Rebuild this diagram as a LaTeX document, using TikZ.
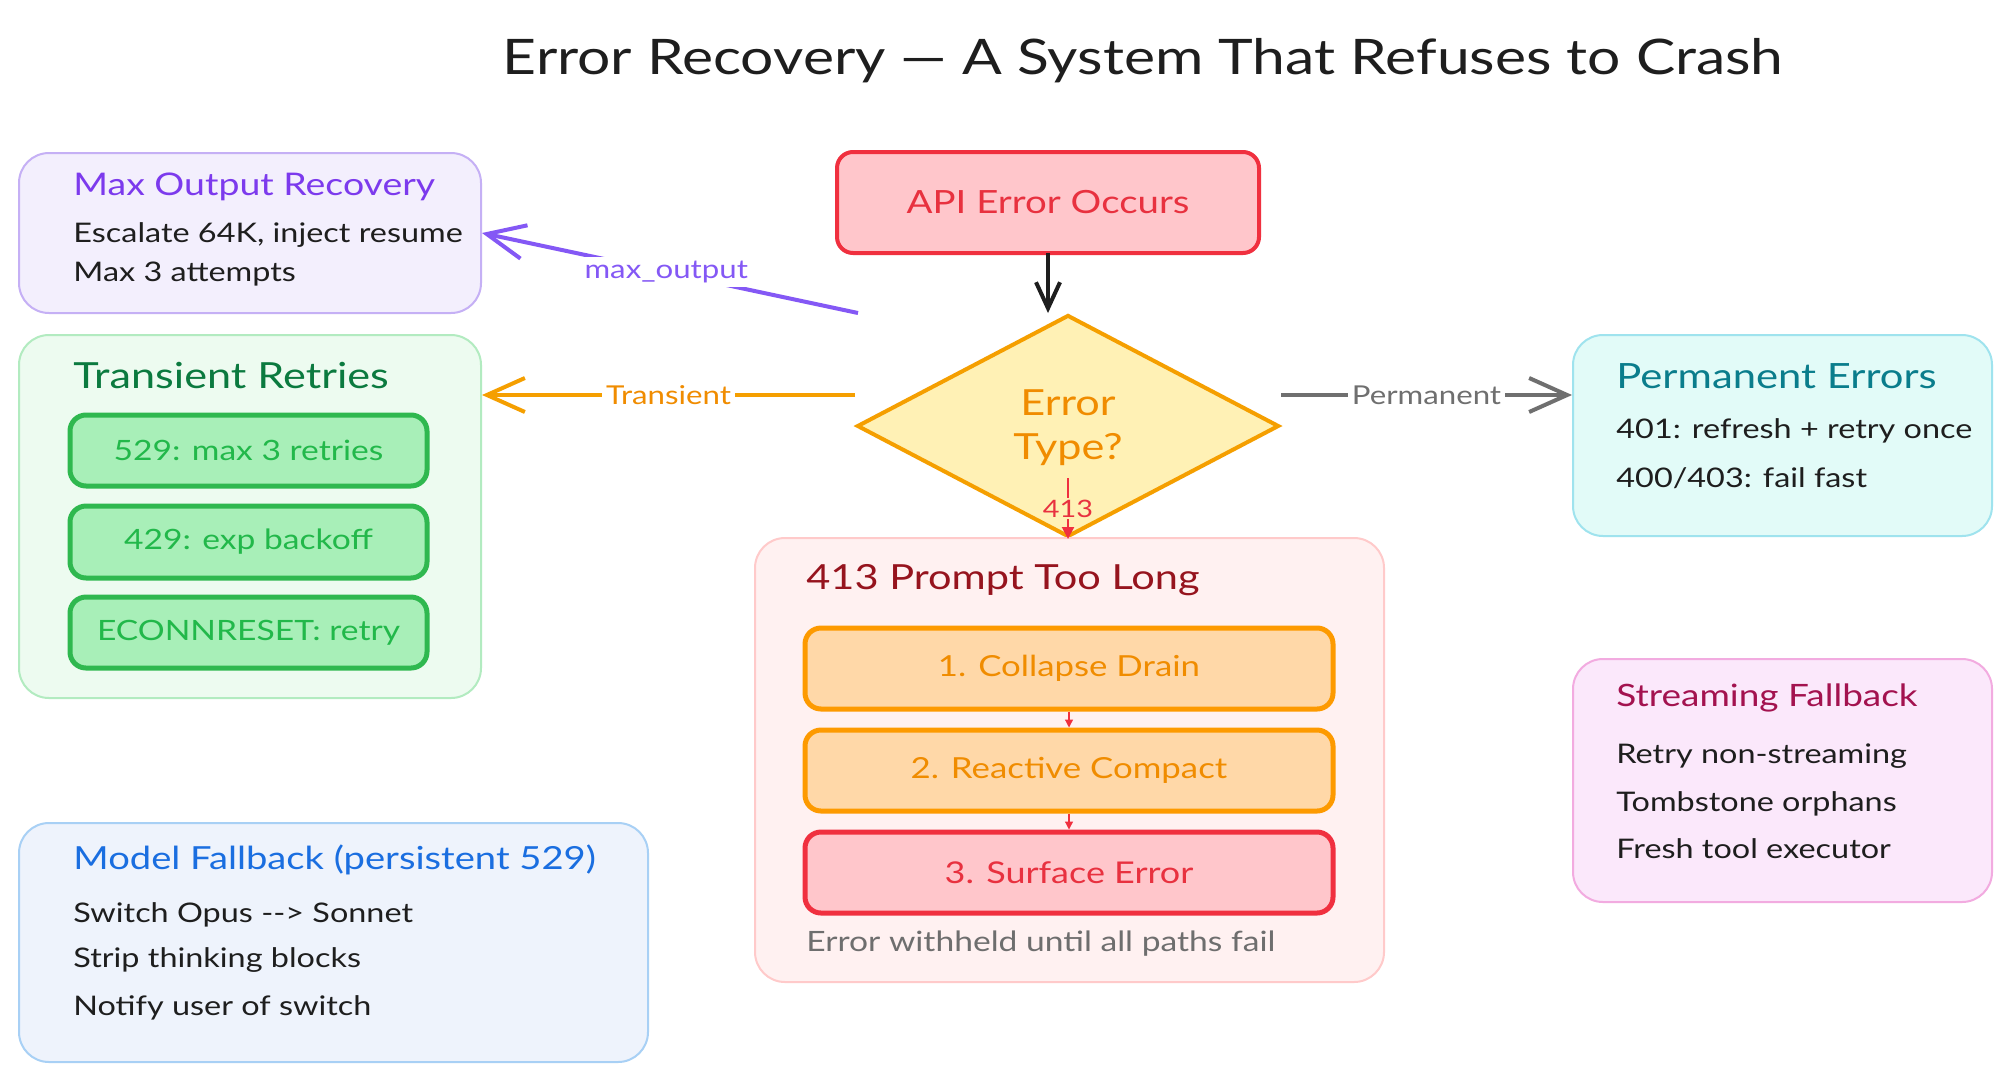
\documentclass[tikz,border=0pt]{standalone}
\usepackage{fontspec}
\setmainfont{Lato}[FakeStretch=1.2]
\usetikzlibrary{arrows.meta,shapes.geometric,fit}
\definecolor{ink}{HTML}{1E1E1E}
\definecolor{moFill}{HTML}{F3EFFD}\definecolor{moDraw}{HTML}{C5B0F5}\definecolor{moTitle}{HTML}{7C3AED}
\definecolor{trFill}{HTML}{EDFBF0}\definecolor{trDraw}{HTML}{B2EBC0}\definecolor{trTitle}{HTML}{0B7A3F}
\definecolor{sgFill}{HTML}{A8EFB8}\definecolor{sgDraw}{HTML}{2FB84F}\definecolor{sgText}{HTML}{22B84A}
\definecolor{apiFill}{HTML}{FFC6CB}\definecolor{apiDraw}{HTML}{F0303F}\definecolor{apiText}{HTML}{E8313F}
\definecolor{dFill}{HTML}{FFF1B5}\definecolor{dDraw}{HTML}{F59F00}\definecolor{dText}{HTML}{F08C00}
\definecolor{ptFill}{HTML}{FFF1F1}\definecolor{ptDraw}{HTML}{FFCACA}\definecolor{ptTitle}{HTML}{96141E}
\definecolor{stFill}{HTML}{FFD8A8}\definecolor{stDraw}{HTML}{FD9A00}
\definecolor{footGray}{HTML}{6E6E6E}
\definecolor{peFill}{HTML}{E2FBF8}\definecolor{peDraw}{HTML}{9FE3EE}\definecolor{peTitle}{HTML}{0A7D8C}
\definecolor{sfFill}{HTML}{FBE8FB}\definecolor{sfDraw}{HTML}{F2ABE0}\definecolor{sfTitle}{HTML}{A3124F}
\definecolor{mfFill}{HTML}{EEF3FC}\definecolor{mfDraw}{HTML}{A8D0F5}\definecolor{mfTitle}{HTML}{1A6EE0}
\definecolor{arPurple}{HTML}{8458F5}\definecolor{arGray}{HTML}{6F6F6F}
\newcommand{\fsz}[1]{\fontsize{#1}{#1}\selectfont}
\begin{document}
\begin{tikzpicture}[x=0.5pt,y=-0.5pt,
  container/.style={rounded corners=15pt,line width=1pt,inner sep=0pt},
  inner/.style={rounded corners=8pt,line width=2.5pt,inner sep=0pt},
  boxtitle/.style={anchor=west,inner sep=0pt,font=\fsz{17pt}},
  bodyline/.style={anchor=west,inner sep=0pt,text=ink,font=\fsz{13.5pt}},
  innertext/.style={inner sep=0pt,font=\fsz{14.5pt}},
  edgelabel/.style={inner sep=2pt,font=\fsz{13pt}},
  barb/.style={-{Straight Barb[length=19pt,width=17pt,line width=2pt]}},
  smallarrow/.style={-{Triangle[length=4pt,width=4pt]},line width=0.6pt,draw=apiDraw}
]
\useasboundingbox (0,0) rectangle (2000,1071);
\fill[white] (0,0) rectangle (2000,1071);

% title
\node[inner sep=0pt,text=ink,font=\fsz{24.5pt}] (title) at (1143,61) {Error Recovery — A System That Refuses to Crash};

% Max output recovery
\node[container,draw=moDraw,fill=moFill,fit={(19,153) (481,313)}] (mo) {};
\node[boxtitle,text=moTitle,font=\fsz{15.6pt}] (moT) at (73,187) {Max Output Recovery};
\node[bodyline] (mo1) at (73,235) {Escalate 64K, inject resume};
\node[bodyline] (mo2) at (73,274) {Max 3 attempts};

% Transient retries
\node[container,draw=trDraw,fill=trFill,fit={(19,335) (481,698)}] (tr) {};
\node[boxtitle,text=trTitle,font=\fsz{18pt}] (trT) at (73,376) {Transient Retries};
\node[inner,draw=sgDraw,fill=sgFill,fit={(70,415) (427,486)}] (tr1) {};
\node[inner,draw=sgDraw,fill=sgFill,fit={(70,506) (427,578)}] (tr2) {};
\node[inner,draw=sgDraw,fill=sgFill,fit={(70,597) (427,668)}] (tr3) {};
\node[innertext,text=sgText,font=\fsz{14pt}] at (tr1.center) {529: max 3 retries};
\node[innertext,text=sgText,font=\fsz{14pt}] at (tr2.center) {429: exp backoff};
\node[innertext,text=sgText,font=\fsz{14pt}] at (tr3.center) {ECONNRESET: retry};

% API error
\node[inner,line width=2pt,draw=apiDraw,fill=apiFill,fit={(837,152) (1259,253)}] (api) {};
\node[innertext,text=apiText,font=\fsz{16pt}] at (api.center) {API Error Occurs};

% diamond
\node[diamond,draw=dDraw,fill=dFill,line width=2pt,minimum width=211pt,minimum height=111pt,inner sep=0pt] (dec) at (1068,426) {};
\node[inner sep=0pt,text=dText,font=\fsz{18pt},align=center] (decT) at (1068,428) {Error\\[4pt]Type?};

% 413 container
\node[container,draw=ptDraw,fill=ptFill,fit={(755,538) (1384,982)}] (pt) {};
\node[boxtitle,text=ptTitle,font=\fsz{17.3pt}] (ptT) at (806,580) {413 Prompt Too Long};
\node[inner,draw=stDraw,fill=stFill,fit={(805,628) (1333,709)}] (s1) {};
\node[inner,draw=stDraw,fill=stFill,fit={(805,730) (1333,811)}] (s2) {};
\node[inner,draw=apiDraw,fill=apiFill,fit={(805,832) (1333,913)}] (s3) {};
\node[innertext,text=dText] at (s1.center) {1. Collapse Drain};
\node[innertext,text=dText] at (s2.center) {2. Reactive Compact};
\node[innertext,text=apiText,font=\fsz{15pt}] at (s3.center) {3. Surface Error};
\node[bodyline,text=footGray,font=\fsz{14pt}] (ptF) at (806,944) {Error withheld until all paths fail};
\draw[smallarrow] (s1.south) -- (s2.north);
\draw[smallarrow] (s2.south) -- (s3.north);

% Permanent errors
\node[container,draw=peDraw,fill=peFill,fit={(1573,335) (1992,536)}] (pe) {};
\node[boxtitle,text=peTitle,font=\fsz{17.4pt}] (peT) at (1616,376) {Permanent Errors};
\node[bodyline] (pe1) at (1616,431) {401: refresh + retry once};
\node[bodyline] (pe2) at (1616,478) {400/403: fail fast};

% Streaming fallback
\node[container,draw=sfDraw,fill=sfFill,fit={(1573,659) (1992,902)}] (sf) {};
\node[boxtitle,text=sfTitle,font=\fsz{15.4pt}] (sfT) at (1616,698) {Streaming Fallback};
\node[bodyline] (sf1) at (1616,756) {Retry non-streaming};
\node[bodyline] (sf2) at (1616,804) {Tombstone orphans};
\node[bodyline] (sf3) at (1616,849) {Fresh tool executor};

% Model fallback
\node[container,draw=mfDraw,fill=mfFill,fit={(19,823) (648,1062)}] (mf) {};
\node[boxtitle,text=mfTitle,font=\fsz{15.9pt}] (mfT) at (73,860) {Model Fallback (persistent 529)};
\node[bodyline] (mf1) at (73,915) {Switch Opus {-}{-}> Sonnet};
\node[bodyline] (mf2) at (73,960) {Strip thinking blocks};
\node[bodyline] (mf3) at (73,1008) {Notify user of switch};

% connectors
\draw[-{Straight Barb[length=13pt,width=12pt,line width=2pt]},line width=1.8pt,draw=ink] (1048,253) -- (dec.north -| 1048,0) coordinate (apiEnd);
\coordinate (moStart) at (858,313);
\draw[barb,line width=2pt,draw=arPurple] (moStart) -- node[edgelabel,fill=white,text=arPurple,pos=0.51] {max\_output} (mo.east |- 0,233);
\draw[barb,line width=2pt,draw=dDraw] (dec.west |- 0,395) -- node[edgelabel,fill=white,text=dText,pos=0.5] {Transient} (tr.east |- 0,395);
\draw[barb,line width=2pt,draw=arGray] (dec.east |- 0,395) -- node[edgelabel,fill=white,text=arGray,pos=0.5] {Permanent} (pe.west |- 0,395);
\coordinate (d413) at (1068,478);
\draw[-{Triangle[length=6pt,width=6pt]},line width=1pt,draw=apiDraw] (d413) -- node[inner sep=1pt,fill=dFill,text=apiText,font=\fsz{12pt}] {413} (dec.south);
\end{tikzpicture}
\end{document}
